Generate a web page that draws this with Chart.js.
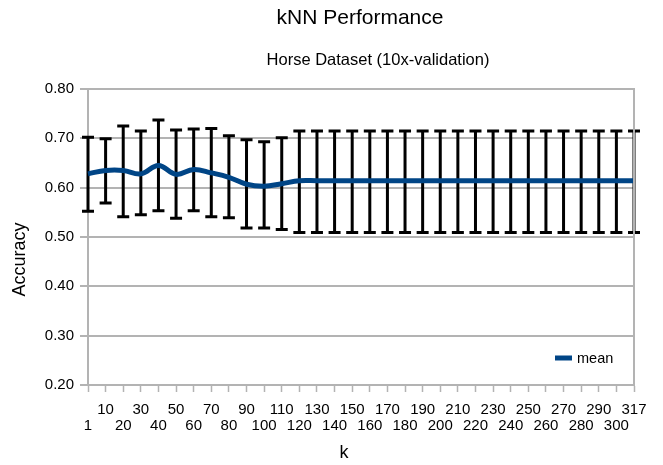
<!DOCTYPE html>
<html>
<head>
<meta charset="utf-8">
<script src="https://cdn.jsdelivr.net/npm/chart.js@4/dist/chart.umd.min.js"></script>
<style>
  html, body { margin: 0; padding: 0; background: #fff; }
  #wrap { width: 663px; height: 465px; position: relative; }
</style>
</head>
<body>
<div id="wrap"><canvas id="c" width="663" height="465"></canvas></div>
<script>
const chartTitle = 'kNN Performance';
const chartSubtitle = 'Horse Dataset (10x-validation)';
const xTitle = 'k';
const yTitle = 'Accuracy';
const seriesLabel = 'mean';

const categories = [1, 10, 20, 30, 40, 50, 60, 70, 80, 90, 100, 110, 120, 130, 140, 150,
  160, 170, 180, 190, 200, 210, 220, 230, 240, 250, 260, 270, 280, 290, 300, 317];

const meanAcc = [0.628, 0.635, 0.635, 0.628, 0.645, 0.627, 0.637, 0.630, 0.621, 0.607, 0.603, 0.608,
  0.614, 0.614, 0.614, 0.614, 0.614, 0.614, 0.614, 0.614, 0.614, 0.614, 0.614, 0.614,
  0.614, 0.614, 0.614, 0.614, 0.614, 0.614, 0.614, 0.614];

const upperAcc = [0.702, 0.699, 0.725, 0.715, 0.737, 0.717, 0.719, 0.720, 0.705, 0.697, 0.693, 0.701,
  0.715, 0.715, 0.715, 0.715, 0.715, 0.715, 0.715, 0.715, 0.715, 0.715, 0.715, 0.715,
  0.715, 0.715, 0.715, 0.715, 0.715, 0.715, 0.715, 0.715];

const lowerAcc = [0.552, 0.569, 0.541, 0.545, 0.553, 0.538, 0.553, 0.541, 0.539, 0.518, 0.518, 0.515,
  0.509, 0.509, 0.509, 0.509, 0.509, 0.509, 0.509, 0.509, 0.509, 0.509, 0.509, 0.509,
  0.509, 0.509, 0.509, 0.509, 0.509, 0.509, 0.509, 0.509];

const yTicks = { min: 0.2, max: 0.8, step: 0.1 };

const FONT = '"Liberation Sans", Arial, sans-serif';
const GRID = '#b3b3b3';
const LINE = '#004586';

const decorations = {
  id: 'decorations',
  beforeDatasetsDraw(chart) {
    const { ctx, scales: { x, y } } = chart;
    ctx.save();
    ctx.strokeStyle = '#000';
    ctx.lineWidth = 3;
    ctx.lineCap = 'butt';
    const cap = 6;
    categories.forEach((c, i) => {
      const px = x.getPixelForValue(i);
      const top = y.getPixelForValue(upperAcc[i]);
      const bot = y.getPixelForValue(lowerAcc[i]);
      ctx.beginPath();
      ctx.moveTo(px, top); ctx.lineTo(px, bot);
      ctx.moveTo(px - cap, top); ctx.lineTo(px + cap, top);
      ctx.moveTo(px - cap, bot); ctx.lineTo(px + cap, bot);
      ctx.stroke();
    });
    ctx.restore();
  },
  afterDraw(chart) {
    const { ctx, chartArea: a } = chart;
    ctx.save();
    // right border of plot area
    ctx.strokeStyle = GRID;
    ctx.lineWidth = 2;
    ctx.beginPath();
    ctx.moveTo(a.right, a.top - 1);
    ctx.lineTo(a.right, a.bottom + 1);
    ctx.stroke();
    // titles
    ctx.fillStyle = '#000';
    ctx.textAlign = 'center';
    ctx.textBaseline = 'middle';
    ctx.font = '21px ' + FONT;
    ctx.fillText(chartTitle, 360, 18);
    ctx.font = '16.5px ' + FONT;
    ctx.fillText(chartSubtitle, 378, 60);
    // axis titles
    ctx.font = '18px ' + FONT;
    ctx.textBaseline = 'alphabetic';
    ctx.fillText(xTitle, 344, 458);
    ctx.save();
    ctx.translate(25, 259.5);
    ctx.rotate(-Math.PI / 2);
    ctx.fillText(yTitle, 0, 0);
    ctx.restore();
    // legend
    const ds = chart.data.datasets[0];
    const lx = a.right - 79, ly = a.bottom - 27;
    ctx.strokeStyle = ds.borderColor;
    ctx.lineWidth = 5;
    ctx.beginPath();
    ctx.moveTo(lx, ly); ctx.lineTo(lx + 17, ly);
    ctx.stroke();
    ctx.textAlign = 'left';
    ctx.textBaseline = 'middle';
    ctx.font = '14.5px ' + FONT;
    ctx.fillText(ds.label, lx + 22, ly + 1);
    ctx.restore();
  }
};

new Chart(document.getElementById('c'), {
  type: 'line',
  data: {
    labels: categories.map(String),
    datasets: [{
      label: seriesLabel,
      data: meanAcc,
      borderColor: LINE,
      backgroundColor: LINE,
      borderWidth: 5,
      pointRadius: 0,
      tension: 0.4,
      fill: false
    }]
  },
  options: {
    responsive: false,
    animation: false,
    devicePixelRatio: 1,
    layout: { padding: { top: 89, right: 29, bottom: 0, left: 0 } },
    plugins: {
      legend: { display: false },
      title: { display: false },
      tooltip: { enabled: false }
    },
    scales: {
      x: {
        type: 'category',
        offset: false,
        afterFit(s) { s.height = 80; },
        grid: {
          offset: false,
          drawOnChartArea: false,
          drawTicks: true,
          tickLength: 7,
          tickWidth: 1.5,
          color: GRID
        },
        border: { display: true, color: GRID, width: 2 },
        ticks: {
          autoSkip: false,
          maxRotation: 0,
          minRotation: 0,
          padding: 10,
          color: '#000',
          font: { family: FONT, size: 15, lineHeight: 1.05 },
          callback(v, i) {
            const lab = String(categories[i]);
            return i % 2 === 0 ? ['', lab] : [lab, ''];
          }
        },
        title: { display: false }
      },
      y: {
        min: yTicks.min,
        max: yTicks.max,
        afterFit(s) { s.width = 88; },
        grid: {
          color: GRID,
          lineWidth: 2,
          drawTicks: true,
          tickLength: 8
        },
        border: { display: true, color: GRID, width: 2 },
        ticks: {
          stepSize: yTicks.step,
          padding: 6,
          color: '#000',
          font: { family: FONT, size: 15 },
          callback(v) { return Number(v).toFixed(2); }
        },
        title: { display: false }
      }
    }
  },
  plugins: [decorations]
});
</script>
</body>
</html>
